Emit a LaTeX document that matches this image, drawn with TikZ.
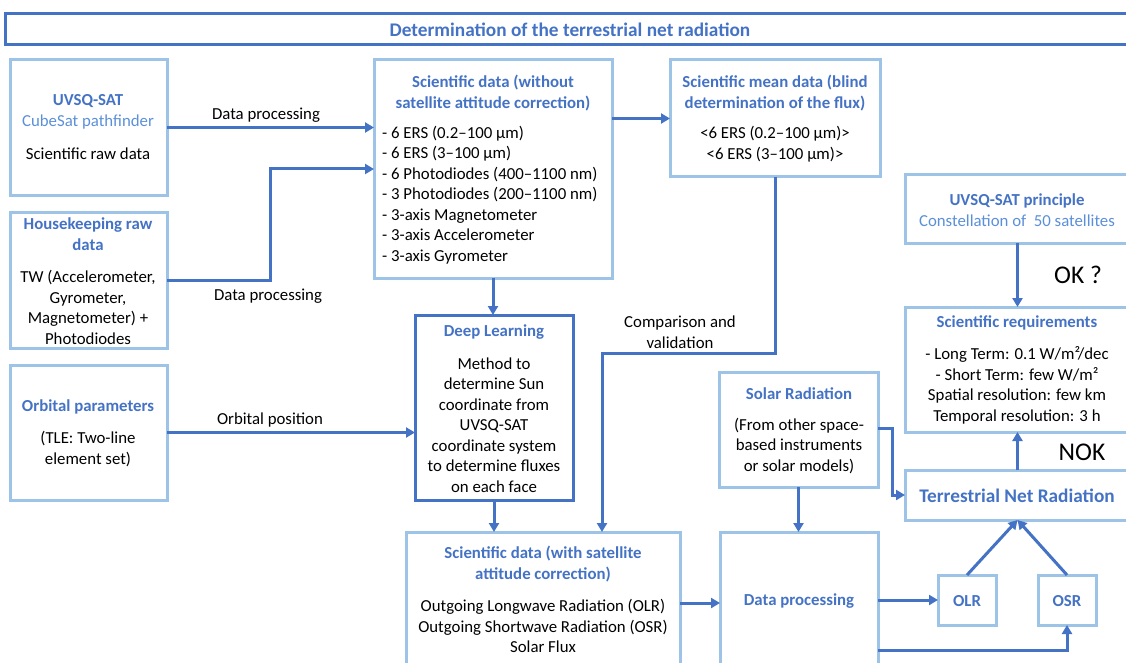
\documentclass[tikz,border=0pt]{standalone}
\usepackage{fontspec}
\setmainfont{Carlito}
\usetikzlibrary{arrows.meta,calc}
\definecolor{db}{HTML}{4472C4}
\definecolor{lb}{HTML}{9DC3E6}
\definecolor{mb}{HTML}{5B8FD9}
\newcommand\bbox[6][lbox]{\node[#1, minimum width={(#5-#3)*1pt}, minimum height={(#6-#4)*1pt}] (#2) at ({(#3+#5)/2},{(#4+#6)/2}) {};}
\begin{document}
\begin{tikzpicture}[x=1pt,y=-1pt,
  lbox/.style={draw=lb, line width=3pt, inner sep=0pt, outer sep=0pt, rectangle},
  dbox/.style={draw=db, line width=3pt, inner sep=0pt, outer sep=0pt, rectangle},
  txt/.style={inner sep=0pt, align=center, font=\fontsize{16.8}{20.5}\selectfont, text=black},
  hd/.style={txt, font=\fontsize{16.8}{20.5}\selectfont\bfseries, text=db},
  lbl/.style={txt},
  arr/.style={draw=db, line width=3pt, -{Triangle[length=9pt,width=10pt]}},
]
\useasboundingbox (0,0) rectangle (1126,663);
% boxes
\bbox[dbox]{title}{5}{14}{1135}{45}
\bbox{bu}{10}{60}{167}{195}
\bbox{bh}{10}{212}{167}{348}
\bbox{bo}{10}{365}{167}{500}
\bbox{bs}{374}{60}{612}{278}
\bbox{bm}{670}{60}{880}{177}
\bbox[dbox]{bd}{415}{315}{573}{500}
\bbox{bw}{406}{532}{680}{680}
\bbox{bdp}{720}{532}{878}{680}
\bbox{bsr}{719}{372}{878}{487}
\bbox{bp}{905}{175}{1130}{243}
\bbox{br}{905}{307}{1130}{432}
\bbox{bt}{905}{470}{1130}{520}
\bbox{bolr}{938}{575}{996}{625}
\bbox{bosr}{1038}{575}{1096}{625}
% texts
\node[hd, font=\fontsize{19.3}{22}\selectfont\bfseries] (tt) at (570,30) {Determination of the terrestrial net radiation};
\node[hd] (u1) at (88,112) {UVSQ-SAT\\\mdseries\color{mb}CubeSat pathfinder};
\node[txt] (u2) at (88,154) {Scientific raw data};
\node[hd] (h1) at (88,234) {Housekeeping raw\\data};
\node[txt] (h2) at (88,307.5) {TW (Accelerometer,\\Gyrometer,\\Magnetometer) +\\Photodiodes};
\node[hd] (o1) at (88,407) {Orbital parameters};
\node[txt] (o2) at (88,449) {(TLE: Two-line\\element set)};
\node[hd] (s1) at (493,93) {Scientific data (without\\satellite attitude correction)};
\node[txt, align=left, anchor=west] (s2) at (382,195) {- 6 ERS (0.2–100 µm)\\- 6 ERS (3–100 µm)\\- 6 Photodiodes (400–1100 nm)\\- 3 Photodiodes (200–1100 nm)\\- 3-axis Magnetometer\\- 3-axis Accelerometer\\- 3-axis Gyrometer};
\node[hd] (m1) at (775,93) {Scientific mean data (blind\\determination of the flux)};
\node[txt] (m2) at (775,144) {<6 ERS (0.2–100 µm)>\\<6 ERS (3–100 µm)>};
\node[hd] (d1) at (494,332) {Deep Learning};
\node[txt] (d2) at (494,425) {Method to\\determine Sun\\coordinate from\\UVSQ-SAT\\coordinate system\\to determine fluxes\\on each face};
\node[hd] (w1) at (543,564) {Scientific data (with satellite\\attitude correction)};
\node[txt] (w2) at (543,626) {Outgoing Longwave Radiation (OLR)\\Outgoing Shortwave Radiation (OSR)\\Solar Flux};
\node[hd] (dp) at (799,601) {Data processing};
\node[hd] (sr1) at (799,394) {Solar Radiation};
\node[txt] (sr2) at (799,446) {(From other space-\\based instruments\\or solar models)};
\node[hd] (p1) at (1017,210) {UVSQ-SAT principle\\\mdseries\color{mb}Constellation of~ 50 satellites};
\node[hd] (r1) at (1017,323) {Scientific requirements};
\node[txt] (r2) at (1017,385.5) {- Long Term: 0.1 W/m²/dec\\- Short Term: few W/m²\\Spatial resolution: few km\\Temporal resolution: 3 h};
\node[hd, font=\fontsize{19.3}{22}\selectfont\bfseries] (t1) at (1017,496) {Terrestrial Net Radiation};
\node[hd] (olr) at (967,601) {OLR};
\node[hd] (osr) at (1067,601) {OSR};
\node[txt, font=\fontsize{25.5}{28}\selectfont] (ok) at (1078,275) {OK ?};
\node[txt, font=\fontsize{25.5}{28}\selectfont] (nok) at (1082,452) {NOK};
\node[lbl] (l1) at (266,115) {Data processing};
\node[lbl] (l2) at (268,296) {Data processing};
\node[lbl] (l3) at (270,420) {Orbital position};
\node[lbl] (l4) at (680,332) {Comparison and\\validation};
% connectors
\draw[arr] (bu.east) -- (bu.east -| bs.west);
\draw[arr] (bh.east) -- ++(103,0) |- (bs.west);
\draw[arr] (bo.east) -- (bo.east -| bd.west);
\draw[arr] (bs.south) -- (bs.south |- bd.north);
\draw[arr] (bm.west -| bs.east) -- (bm.west);
\draw[arr] (bm.south) -- ++(0,176) -| ([xshift=59pt]bw.north);
\draw[arr] (bd.south) -- (bd.south |- bw.north);
\draw[arr] ([yshift=3pt]bw.east) -- ([yshift=3pt]bw.east -| bdp.west);
\draw[arr] (bsr.south) -- (bsr.south |- bdp.north);
\draw[arr] ([yshift=1.5pt]bsr.east) -- ++(14,0) |- (bt.west);
\draw[arr] (bdp.east |- bolr.west) -- (bolr.west);
\draw[arr] ([yshift=-44pt]bdp.east) -| (bosr.south);
\draw[arr] (bolr.north) -- (bt.south);
\draw[arr] (bosr.north) -- (bt.south);
\draw[arr] (bt.north) -- (bt.north |- br.south);
\draw[arr] (bp.south) -- (bp.south |- br.north);
\end{tikzpicture}
\end{document}
